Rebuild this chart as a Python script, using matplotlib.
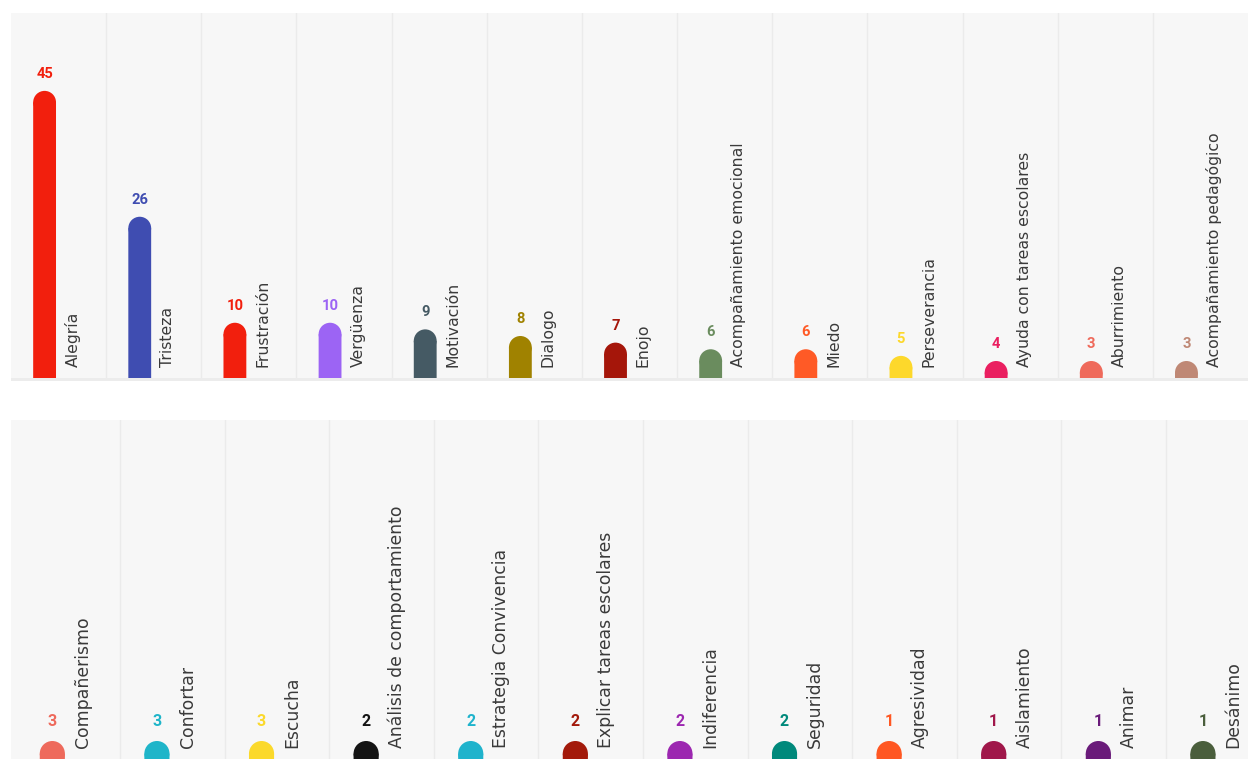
import matplotlib
matplotlib.use("Agg")
import matplotlib.pyplot as plt
from matplotlib.patches import Rectangle, Ellipse

# ---------------- data ----------------
top_categories = ["Alegría", "Tristeza", "Frustración", "Vergüenza", "Motivación",
                  "Dialogo", "Enojo", "Acompañamiento emocional", "Miedo",
                  "Perseverancia", "Ayuda con tareas escolares", "Aburrimiento",
                  "Acompañamiento pedagógico"]
top_values = [45, 26, 10, 10, 9, 8, 7, 6, 6, 5, 4, 3, 3]
top_colors = ["#f21f0d", "#3f4db1", "#f21f0d", "#9c64f4", "#455a64",
              "#a08200", "#a5160a", "#6a8c5e", "#ff5a26", "#fdd82b",
              "#ea1f60", "#ef6a5b", "#bf8875"]

bottom_categories = ["Compañerismo", "Confortar", "Escucha",
                     "Análisis de comportamiento", "Estrategia Convivencia",
                     "Explicar tareas escolares", "Indiferencia", "Seguridad",
                     "Agresividad", "Aislamiento", "Animar", "Desánimo"]
bottom_values = [3, 3, 3, 2, 2, 2, 2, 2, 1, 1, 1, 1]
bottom_colors = ["#ee6a5c", "#1fb5c9", "#fbd92b", "#141414", "#1fb3cc",
                 "#a31a0b", "#9c27b0", "#00897b", "#ff5722", "#a0174a",
                 "#6a1b7a", "#4a5e3c"]

# ---------------- layout ----------------
W, H, DPI = 1248, 759, 100
fig = plt.figure(figsize=(W / DPI, H / DPI), dpi=DPI)
fig.patch.set_facecolor("white")

BG = "#f7f7f7"
SEP = "#ebebeb"
TXT = "#3a3a3a"


def px_axes(left, top, right, bottom):
    return fig.add_axes([left / W, (H - bottom) / H, (right - left) / W, (bottom - top) / H])


def draw_panel(ax, cats, vals, colors, x0_off, px_unit, v0, min_px, bar_w,
               height_px, lab_size, val_size, val_off_px, lab_off_px, col_px):
    n = len(cats)
    ax.set_facecolor(BG)
    ax.set_xlim(-0.5 - x0_off, n - 0.5)
    ax.set_ylim(v0, v0 + height_px / px_unit)
    for s in ax.spines.values():
        s.set_visible(False)
    ax.set_xticks([])
    ax.set_yticks([])
    for k in range(n - 1):
        ax.axvline(k + 0.5, color=SEP, lw=1, zorder=1)
    r_data = (bar_w * col_px / 2) / px_unit
    for i, (c, v, col) in enumerate(zip(cats, vals, colors)):
        xb = i - 0.147
        top_px = max((v - v0) * px_unit, min_px)
        top = v0 + top_px / px_unit
        ax.bar(xb, top - r_data - v0, bottom=v0, width=bar_w, color=col,
               linewidth=0, zorder=3, snap=False)
        ax.add_patch(Ellipse((xb, top - r_data), bar_w, 2 * r_data,
                             facecolor=col, edgecolor="none", zorder=3))
        ax.annotate(str(v), (xb, top), xytext=(0, val_off_px * 72 / DPI),
                    textcoords="offset points", ha="center", va="center",
                    fontsize=val_size, fontweight="bold", color=col,
                    family=["Roboto", "DejaVu Sans"], zorder=4)
        ax.annotate(c, (i + 0.147, v0), xytext=(0, lab_off_px * 72 / DPI),
                    textcoords="offset points", ha="center", va="bottom",
                    rotation=90, fontsize=lab_size, color=TXT,
                    family=["DejaVu Sans"], zorder=4)


# top panel
ax1 = px_axes(11, 13, 1248, 378)
col1 = (1248 - 11) / 13
draw_panel(ax1, top_categories, top_values, top_colors, 0.0, 6.625, 1.66, 17,
           0.24, 365, 11.3, 10.6, 17, 11, col1)
fig.add_artist(Rectangle((11 / W, (H - 381) / H), (1248 - 11) / W, 3 / H,
                         transform=fig.transFigure, color="#ececec", lw=0))

# bottom panel (extends past the right/bottom edge, as in the reference)
col2 = 104.6
left2 = 11
x0_off = (15.4 - 11) / col2
right2 = 15.4 + 12 * col2
ax2 = px_axes(left2, 420, right2, 760)
draw_panel(ax2, bottom_categories, bottom_values, bottom_colors, x0_off,
           6.625 * 1.1, 1.66, 19, 0.24, 340, 12.4, 11.5, 19, 12.5, col2)

fig.savefig("out.png", dpi=DPI, facecolor="white")
